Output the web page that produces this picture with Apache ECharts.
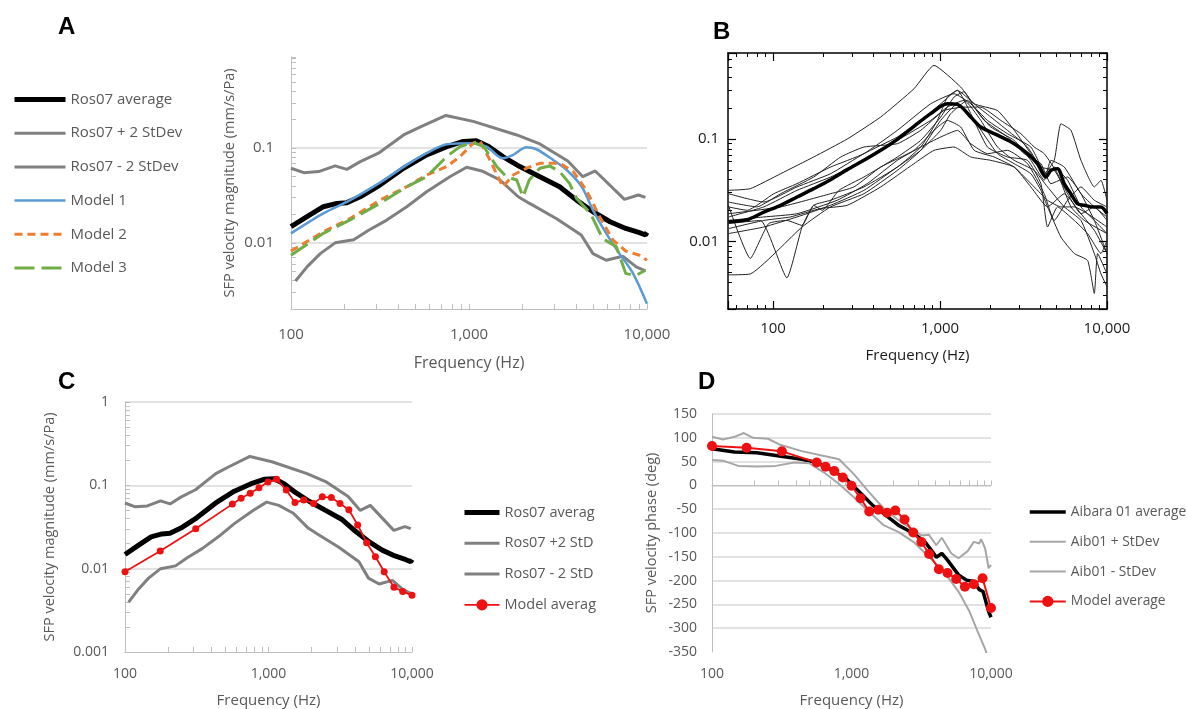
<!DOCTYPE html>
<html><head><meta charset="utf-8">
<script src="https://cdn.jsdelivr.net/npm/echarts@6/dist/echarts.min.js"></script>
<style>html,body{margin:0;padding:0;background:#fff}#c{width:1187px;height:709px}</style>
</head><body><div id="c"></div>
<script>
// ---------- Panel A / C : Ros07 magnitude (mm/s/Pa) vs frequency (Hz)
const ros07Avg = [[100,0.0148],[123,0.0189],[152,0.0241],[181,0.0261],[206,0.0266],[245,0.0307],[316,0.0408],[429,0.0614],[578,0.085],[750,0.104],[930,0.118],[1100,0.12],[1290,0.104],[1550,0.0816],[1930,0.064],[2500,0.05],[3230,0.0392],[4020,0.0283],[4970,0.0213],[6200,0.0167],[7600,0.0142],[9070,0.0128],[9800,0.0121],[10000,0.0129]];
const ros07Plus = [[100,0.0614],[118,0.0552],[143,0.0566],[177,0.065],[206,0.0598],[245,0.0722],[310,0.0885],[429,0.138],[530,0.167],[742,0.222],[1056,0.192],[1855,0.138],[2500,0.111],[3590,0.0734],[4360,0.05],[5120,0.0575],[7470,0.0288],[8930,0.032],[9800,0.0302]];
const ros07Minus = [[106,0.00396],[123,0.00557],[146,0.0077],[177,0.01],[225,0.0108],[273,0.0136],[345,0.0174],[447,0.0241],[578,0.0347],[780,0.05],[970,0.0629],[1180,0.0575],[1490,0.0462],[1890,0.0307],[2190,0.0261],[3090,0.0181],[4270,0.0121],[4970,0.0077],[5900,0.00655],[7300,0.00723],[8700,0.00557],[9800,0.00505]];
const model1 = [[100,0.0126],[152,0.0205],[215,0.0283],[316,0.0433],[447,0.0666],[578,0.0885],[750,0.11],[1056,0.113],[1255,0.104],[1550,0.0783],[1770,0.085],[2100,0.1025],[2390,0.0975],[2970,0.0752],[3540,0.0589],[4300,0.0392],[4970,0.0222],[5900,0.0126],[7000,0.0077],[8360,0.00473],[10000,0.00227]];
const model2 = [[100,0.0082],[152,0.0131],[215,0.0181],[316,0.0283],[447,0.0392],[578,0.0521],[750,0.064],[890,0.0816],[1056,0.113],[1150,0.12],[1310,0.0752],[1550,0.0392],[1770,0.0521],[2100,0.0614],[2500,0.0693],[3230,0.0693],[3850,0.0566],[4560,0.0361],[5420,0.0189],[6440,0.0107],[7600,0.0082],[9070,0.0074],[10000,0.00655]];
const model3 = [[100,0.0074],[152,0.0126],[215,0.0175],[316,0.0261],[447,0.0392],[578,0.05],[750,0.0816],[890,0.104],[1056,0.115],[1210,0.104],[1430,0.064],[1620,0.05],[1855,0.0462],[2010,0.0307],[2180,0.0462],[2500,0.0614],[2840,0.065],[3230,0.0566],[3670,0.0425],[4020,0.0295],[4820,0.0204],[5630,0.0111],[6730,0.0091],[7600,0.00473],[8700,0.00455],[9800,0.00513]];
const modelAvgMag = [[100,0.0092],[176,0.0163],[311,0.0301],[560,0.0595],[644,0.0701],[746,0.0804],[858,0.0938],[992,0.11],[1140,0.118],[1330,0.088],[1530,0.0623],[1760,0.0669],[2060,0.0607],[2370,0.0727],[2740,0.0714],[3150,0.0607],[3630,0.051],[4180,0.0335],[4830,0.0205],[5560,0.0139],[6400,0.0092],[7490,0.006],[8610,0.00533],[10000,0.00479]];

// ---------- Panel B : individual ears + average
const bLine1 = [[54,0.0315],[73,0.0327],[111,0.0458],[175,0.0667],[278,0.1],[441,0.164],[698,0.31],[920,0.525],[1330,0.322],[1600,0.221],[2208,0.19],[2780,0.122],[3499,0.0719],[4207,0.0458],[4831,0.0619],[5297,0.141],[6081,0.122],[6982,0.0619],[8395,0.034],[9204,0.0395],[10000,0.0252]];
const bLine2 = [[54,0.0217],[70,0.0201],[101,0.0292],[139,0.0366],[221,0.0532],[350,0.0719],[555,0.1215],[879,0.221],[1213,0.277],[1528,0.221],[1923,0.152],[2535,0.1127],[3499,0.0835],[4406,0.0425],[4831,0.0532],[5808,0.0395],[6982,0.0217],[8395,0.016],[10000,0.0119]];
const bLine3 = [[54,0.0173],[88,0.0217],[139,0.0315],[221,0.0425],[350,0.0619],[555,0.097],[879,0.152],[1107,0.205],[1393,0.239],[1754,0.152],[2208,0.0835],[2780,0.0619],[3664,0.0494],[4406,0.034],[5546,0.0217],[6982,0.016],[8395,0.0076],[9204,0.0048],[10000,0.0036]];
const bLine4 = [[54,0.0225],[73,0.0068],[94,0.0149],[121,0.016],[149,0.0143],[175,0.0225],[197,0.0201],[248,0.0315],[350,0.0425],[555,0.0667],[766,0.097],[1009,0.164],[1213,0.257],[1393,0.29],[1600,0.205],[2014,0.131],[2780,0.097],[3499,0.0619],[4207,0.0395],[4613,0.0619],[5546,0.0532],[6982,0.0292],[8395,0.0217],[10000,0.0173]];
const bLine5 = [[54,0.0149],[84,0.016],[121,0.0044],[149,0.0138],[175,0.0225],[221,0.0252],[350,0.034],[555,0.0532],[766,0.0835],[964,0.152],[1107,0.257],[1271,0.299],[1528,0.177],[1923,0.0835],[2535,0.0667],[3342,0.0619],[4018,0.0366],[4406,0.0138],[5058,0.0217],[6368,0.016],[7656,0.0119],[9204,0.0076],[10000,0.0102]];
const bLine6 = [[54,0.0047],[73,0.0048],[149,0.0138],[221,0.0217],[350,0.0292],[555,0.0494],[766,0.0775],[1009,0.152],[1271,0.221],[1600,0.152],[2208,0.0719],[2780,0.0574],[3499,0.0458],[4018,0.0315],[4406,0.0217],[5297,0.011],[6368,0.0076],[7656,0.0065],[8395,0.0031],[8790,0.0076],[10000,0.0048]];
const bLine7 = [[54,0.0292],[88,0.0242],[139,0.034],[221,0.0458],[350,0.0719],[555,0.1046],[766,0.152],[1009,0.221],[1271,0.299],[1600,0.221],[2014,0.164],[2535,0.1215],[3342,0.0835],[4018,0.0532],[4831,0.0494],[5808,0.0292],[6982,0.0186],[8395,0.0217],[10000,0.016]];
const bLine8 = [[54,0.0186],[111,0.0217],[221,0.0292],[305,0.034],[441,0.0532],[698,0.0775],[920,0.1215],[1107,0.152],[1330,0.131],[1600,0.0775],[2109,0.0667],[2780,0.0532],[3664,0.034],[4406,0.0252],[5297,0.0217],[6368,0.0217],[7656,0.0186],[10000,0.0138]];
const bLine9 = [[54,0.016],[88,0.0173],[139,0.0186],[242,0.0252],[366,0.0366],[555,0.0619],[766,0.0835],[1009,0.1046],[1271,0.1215],[1528,0.09],[1923,0.0719],[2535,0.0775],[3342,0.0574],[4207,0.0292],[4831,0.016],[5808,0.0252],[6982,0.034],[8395,0.0252],[10000,0.0217]];
const bLine10 = [[54,0.0242],[80,0.0217],[111,0.0292],[175,0.0425],[254,0.0667],[350,0.0835],[555,0.09],[766,0.1215],[1057,0.19],[1393,0.205],[1754,0.205],[2312,0.152],[3048,0.1127],[3664,0.0835],[4207,0.0719],[5058,0.0458],[6081,0.0217],[7311,0.016],[10000,0.0119]];
const bLine11 = [[54,0.0133],[88,0.016],[127,0.0173],[192,0.0209],[278,0.0225],[441,0.034],[698,0.0574],[920,0.0775],[1213,0.0835],[1528,0.0667],[2014,0.0619],[2780,0.0532],[3499,0.034],[4406,0.0217],[5546,0.0292],[6982,0.0186],[8395,0.0128],[10000,0.0076]];
const bLine12 = [[54,0.0119],[88,0.0138],[139,0.0173],[221,0.0225],[350,0.0315],[555,0.0532],[766,0.0775],[1009,0.1215],[1159,0.177],[1459,0.239],[1837,0.152],[2535,0.1046],[3192,0.0719],[4018,0.0574],[4613,0.0366],[5808,0.0425],[6982,0.0292],[8395,0.016],[10000,0.0076]];
const bAvg = [[54,0.0155],[70,0.0163],[88,0.0193],[111,0.0225],[139,0.0271],[175,0.0327],[221,0.04],[278,0.0502],[350,0.0619],[441,0.0775],[555,0.0993],[698,0.133],[879,0.177],[1107,0.221],[1271,0.218],[1528,0.164],[1754,0.131],[2208,0.109],[2780,0.09],[3342,0.0719],[3830,0.0574],[4300,0.0425],[4610,0.0494],[5050,0.0513],[5540,0.0366],[6070,0.0292],[6660,0.0233],[7300,0.0225],[8380,0.0216],[9180,0.0216],[10000,0.0187]];

// ---------- Panel D : phase (deg)
const aibAvg = [[100,77],[145,70],[210,68.8],[304,61.8],[440,54.9],[563,48],[721,32.6],[923,13],[1180,-18],[1420,-42],[1710,-59.7],[2180,-84],[2790,-101],[3370,-119],[3810,-139.6],[4050,-151],[4440,-143],[4880,-157],[5850,-188],[6680,-199],[7530,-202],[8250,-219],[8770,-223],[9610,-264.6],[10000,-277]];
const aibPlus = [[100,102],[120,96.5],[145,102],[169,110],[197,100],[252,98],[304,86],[440,72],[636,61.8],[814,55],[1040,23.6],[1340,-14.6],[1710,-49],[2180,-73.6],[2790,-94],[3170,-105],[3580,-103.5],[4050,-125.7],[4440,-110],[5200,-143],[5850,-153],[6800,-138],[7530,-118.7],[8250,-122],[8500,-113],[9080,-132.6],[9610,-174],[10000,-167]];
const aibMinus = [[100,53.5],[120,52],[154,41],[210,39.6],[286,41],[389,48],[497,46.5],[636,27],[814,2.8],[1040,-25],[1340,-56],[1710,-84],[2180,-98],[2790,-119],[3580,-150],[4590,-181],[5850,-223],[7000,-264.6],[8000,-306],[9080,-344],[9350,-355]];
const modelAvgPhase = [[100,82.6],[177,79],[317,71.5],[563,48],[652,39],[753,30],[866,16.7],[1000,-0.7],[1160,-27],[1340,-55],[1560,-51],[1800,-57.6],[2060,-52.8],[2400,-71.5],[2770,-99],[3170,-119],[3600,-144],[4230,-176],[4880,-184],[5630,-196.5],[6500,-213],[7530,-207.6],[8700,-195],[10000,-257.6]];

const legendA = ['Ros07 average','Ros07 + 2 StDev','Ros07 - 2 StDev','Model 1','Model 2','Model 3'];
const legendC = ['Ros07 average','Ros07 +2 StDev','Ros07 - 2 StDev','Model average'];
const legendD = ['Aibara 01 average','Aib01 + StDev','Aib01 - StDev','Model average '];
const phaseTicks = {min: -350, max: 150, interval: 50};

// ---------- helpers
const FONT = '"Open Sans", "Noto Sans", sans-serif';
const TXT = '#595959';
const fmtLog = v => {
  const l = Math.log10(v);
  if (Math.abs(l - Math.round(l)) > 1e-6) return '';
  const p = Math.round(l), n = Math.pow(10, p);
  return p >= 0 ? n.toLocaleString('en-US') : n.toFixed(-p);
};
function excelLogX(grid, name, gap, fs, margin) {
  return {type:'log', gridIndex:grid, min:100, max:10000, logBase:10,
    name:name, nameLocation:'middle', nameGap:gap, nameTextStyle:{color:TXT, fontSize:fs+1, fontFamily:FONT},
    axisLine:{lineStyle:{color:'#bfbfbf', width:1}},
    axisTick:{show:true, inside:true, length:5, lineStyle:{color:'#bfbfbf'}},
    minorTick:{show:true, splitNumber:9, length:5, lineStyle:{color:'#bfbfbf'}},
    axisLabel:{formatter:fmtLog, color:TXT, fontSize:fs, fontFamily:FONT, margin:margin, showMinLabel:true, showMaxLabel:true},
    splitLine:{show:false}};
}
function line(name, data, xi, yi, color, width, extra) {
  return Object.assign({type:'line', name:name, data:data, xAxisIndex:xi, yAxisIndex:yi,
    symbol:'none', showSymbol:false, clip:true, animation:false,
    lineStyle:{color:color, width:width}, itemStyle:{color:color}}, extra || {});
}
const noMark = names => names.map(n => (n.indexOf('Model average') === 0 ? n : {name:n, itemStyle:{opacity:0}}));

const series = [];
// Panel A (xAxis 0, yAxis 0)
series.push(line('Ros07 average', ros07Avg, 0, 0, '#000000', 5));
series.push(line('Ros07 + 2 StDev', ros07Plus, 0, 0, '#808080', 3));
series.push(line('Ros07 - 2 StDev', ros07Minus, 0, 0, '#808080', 3));
series.push(line('Model 1', model1, 0, 0, '#5b9bd5', 2.5, {smooth:0.3}));
series.push(line('Model 2', model2, 0, 0, '#ed7d31', 3, {lineStyle:{color:'#ed7d31', width:3, type:[8,5]}}));
series.push(line('Model 3', model3, 0, 0, '#70ad47', 3, {lineStyle:{color:'#70ad47', width:3, type:[20,7]}}));
// Panel B (xAxis 1, yAxis 1)
[bLine1,bLine2,bLine3,bLine4,bLine5,bLine6,bLine7,bLine8,bLine9,bLine10,bLine11,bLine12].forEach((d,i) => {
  series.push(line('ear ' + (i+1), d, 1, 1, '#222222', 1, {smooth:0.15}));
});
series.push(line('B average', bAvg, 1, 1, '#000000', 3.5, {smooth:0.3}));
// Panel C (xAxis 3, yAxis 3)
series.push(line('Ros07 average', ros07Avg, 3, 3, '#000000', 5));
series.push(line('Ros07 +2 StDev', ros07Plus, 3, 3, '#808080', 3));
series.push(line('Ros07 - 2 StDev', ros07Minus, 3, 3, '#808080', 3));
series.push(line('Model average', modelAvgMag, 3, 3, '#ee1111', 1.8, {symbol:'circle', showSymbol:true, symbolSize:7}));
// Panel D (xAxis 4, yAxis 4)
series.push(line('Aibara 01 average', aibAvg, 4, 4, '#000000', 3.5));
series.push(line('Aib01 + StDev', aibPlus, 4, 4, '#a6a6a6', 2));
series.push(line('Aib01 - StDev', aibMinus, 4, 4, '#a6a6a6', 2));
series.push(line('Model average ', modelAvgPhase, 4, 4, '#ee1111', 2, {symbol:'circle', showSymbol:true, symbolSize:10}));

const bAxisCommon = {
  axisLine:{lineStyle:{color:'#000', width:1.5}},
  axisTick:{show:true, inside:true, length:8, lineStyle:{color:'#000', width:1.2}},
  minorTick:{show:true, splitNumber:9, length:4, lineStyle:{color:'#000', width:1}},
  splitLine:{show:false}
};

const option = {
  animation:false,
  backgroundColor:'#ffffff',
  textStyle:{fontFamily:FONT},
  grid:[
    {left:291, top:57, width:356, height:252},
    {left:728, top:53, width:379, height:256},
    {left:125, top:402, width:287, height:252},
    {left:712, top:414, width:279, height:240}
  ],
  xAxis:[
    excelLogX(0, 'Frequency (Hz)', 46, 15, 18),
    Object.assign({type:'log', gridIndex:1, min:53.7, max:10000, position:'bottom',
      name:'Frequency (Hz)', nameLocation:'middle', nameGap:39, nameTextStyle:{color:'#1a1a1a', fontSize:15, fontFamily:FONT},
      axisLabel:{formatter:fmtLog, color:'#1a1a1a', fontSize:15, fontFamily:FONT, margin:12}}, bAxisCommon),
    Object.assign({type:'log', gridIndex:1, min:53.7, max:10000, position:'top', axisLabel:{show:false}}, bAxisCommon),
    excelLogX(2, 'Frequency (Hz)', 41, 14, 15),
    excelLogX(3, 'Frequency (Hz)', 41, 14, 15)
  ],
  yAxis:[
    {type:'log', gridIndex:0, min:0.002, max:0.92,
      name:'SFP velocity magnitude (mm/s/Pa)', nameLocation:'middle', nameGap:54, nameRotate:90,
      nameTextStyle:{color:TXT, fontSize:14.5, fontFamily:FONT},
      axisLine:{show:true, lineStyle:{color:'#bfbfbf'}},
      axisTick:{show:true, inside:true, length:5, lineStyle:{color:'#bfbfbf'}},
      minorTick:{show:true, splitNumber:9, length:5, lineStyle:{color:'#bfbfbf'}},
      axisLabel:{formatter:fmtLog, color:TXT, fontSize:15, fontFamily:FONT, margin:17},
      splitLine:{show:true, showMinLine:false, showMaxLine:false, lineStyle:{color:'#d9d9d9', width:1.5}}},
    Object.assign({type:'log', gridIndex:1, min:0.00218, max:0.693, position:'left',
      axisLabel:{formatter:fmtLog, color:'#1a1a1a', fontSize:15, fontFamily:FONT, margin:9}}, bAxisCommon),
    Object.assign({type:'log', gridIndex:1, min:0.00218, max:0.693, position:'right', axisLabel:{show:false}}, bAxisCommon),
    {type:'log', gridIndex:2, min:0.001, max:1,
      name:'SFP velocity magnitude (mm/s/Pa)', nameLocation:'middle', nameGap:68, nameRotate:90,
      nameTextStyle:{color:TXT, fontSize:14.5, fontFamily:FONT},
      axisLine:{show:true, lineStyle:{color:'#bfbfbf'}},
      axisTick:{show:true, inside:true, length:5, lineStyle:{color:'#bfbfbf'}},
      minorTick:{show:true, splitNumber:9, length:5, lineStyle:{color:'#bfbfbf'}},
      axisLabel:{formatter:fmtLog, color:TXT, fontSize:14, fontFamily:FONT, margin:16},
      splitLine:{show:true, showMinLine:false, lineStyle:{color:'#d9d9d9', width:1.5}}},
    {type:'value', gridIndex:3, min:phaseTicks.min, max:phaseTicks.max, interval:phaseTicks.interval,
      name:'SFP velocity phase (deg)', nameLocation:'middle', nameGap:53, nameRotate:90,
      nameTextStyle:{color:TXT, fontSize:14.5, fontFamily:FONT},
      axisLine:{show:true, lineStyle:{color:'#bfbfbf'}},
      axisTick:{show:false},
      axisLabel:{color:TXT, fontSize:14, fontFamily:FONT, margin:15},
      splitLine:{show:true, showMinLine:false, lineStyle:{color:'#d9d9d9', width:1.5}}}
  ],
  legend:[
    {orient:'vertical', left:12, top:92, padding:0, itemWidth:51, itemHeight:14, itemGap:18.7, data:noMark(legendA),
      textStyle:{color:TXT, fontSize:15, fontFamily:FONT, lineHeight:14},
      lineStyle:{width:'inherit', type:'inherit'}, selectedMode:false},
    {orient:'vertical', left:462, top:505, padding:0, itemWidth:35, itemHeight:14, itemGap:15.8, data:noMark(legendC),
      textStyle:{color:TXT, fontSize:14.5, fontFamily:FONT, lineHeight:14, width:97, overflow:'truncate', ellipsis:''},
      lineStyle:{width:'inherit'}, selectedMode:false},
    {orient:'vertical', left:1028, top:505, padding:0, itemWidth:36, itemHeight:14, itemGap:15.8, data:noMark(legendD),
      textStyle:{color:TXT, fontSize:13.8, fontFamily:FONT, lineHeight:14},
      lineStyle:{width:'inherit'}, selectedMode:false}
  ],
  graphic:[
    {type:'text', left:58, top:15, style:{text:'A', font:'bold 24px "Liberation Sans", Arial, sans-serif', fill:'#000'}},
    {type:'text', left:713, top:20, style:{text:'B', font:'bold 24px "Liberation Sans", Arial, sans-serif', fill:'#000'}},
    {type:'text', left:58, top:370, style:{text:'C', font:'bold 24px "Liberation Sans", Arial, sans-serif', fill:'#000'}},
    {type:'text', left:698, top:370, style:{text:'D', font:'bold 24px "Liberation Sans", Arial, sans-serif', fill:'#000'}}
  ],
  series:series
};
const chart = echarts.init(document.getElementById('c'), null, {renderer:'canvas'});
chart.setOption(option);
</script>
</body></html>
